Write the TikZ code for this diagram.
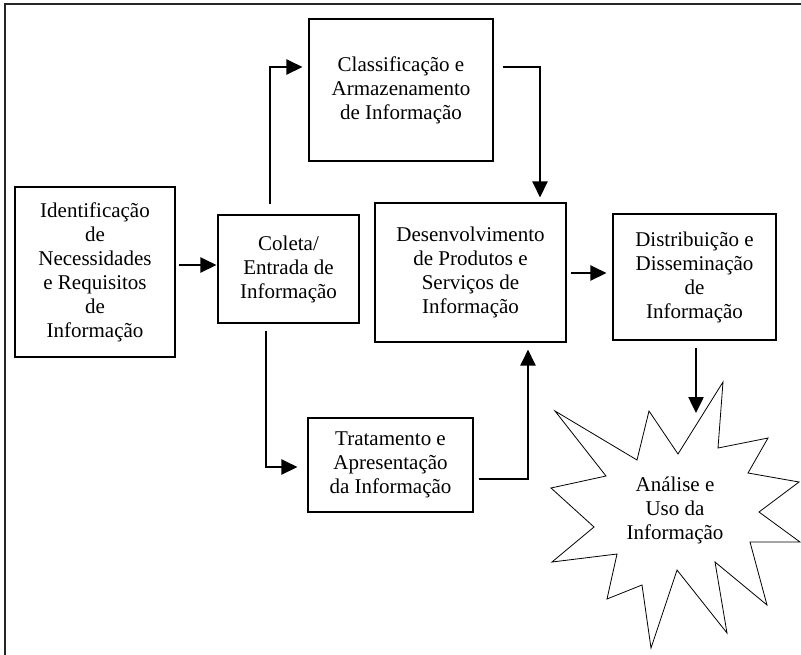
\documentclass[tikz,border=0pt]{standalone}
\usepackage{fontspec}
\setmainfont{Liberation Serif}
\usetikzlibrary{arrows.meta}
\begin{document}
\begin{tikzpicture}[x=1pt,y=-1pt,
  box/.style={draw, line width=1.1pt, align=center, inner sep=0pt,
    font=\fontsize{21}{24}\selectfont},
  label/.style={align=center, inner sep=0pt, font=\fontsize{21}{24}\selectfont},
  flow/.style={line width=2.5pt, -{Triangle[length=16pt,width=15pt]}},
  link/.style={line width=1.5pt},
  burst/.style={draw, line width=0.8pt}
]
\useasboundingbox (0,0) rectangle (801,654);

% outer frame (right and bottom sides lie outside the page)
\draw[line width=2.6pt, black!85] (5,680) -- (5,4) -- (830,4);

% process boxes
\node[box, minimum width=160pt, minimum height=170pt] (ident) at (95,272)
  {Identificação\\de\\Necessidades\\e Requisitos\\de\\Informação};
\node[box, minimum width=141pt, minimum height=108pt] (coleta) at (288.5,269)
  {Coleta/\\Entrada de\\Informação};
\node[box, minimum width=184pt, minimum height=142pt] (classif) at (401,90)
  {Classificação e\\Armazenamento\\de Informação};
\node[box, minimum width=191pt, minimum height=139pt] (desenv) at (470.5,272.5)
  {Desenvolvimento\\de Produtos e\\Serviços de\\Informação};
\node[box, minimum width=163pt, minimum height=126pt] (distrib) at (694.5,277)
  {Distribuição e\\Disseminação\\de\\Informação};
\node[box, minimum width=165pt, minimum height=94pt] (trat) at (390.5,465)
  {Tratamento e\\Apresentação\\da Informação};

% final stage: burst shape with its label
\draw[burst] (723,382) -- (718,448) -- (768,438) -- (748,473) -- (799,482)
  -- (759,512) -- (800,542) -- (750,542) -- (767,605) -- (715,562)
  -- (727,633) -- (677,570) -- (651,648) -- (642,585) -- (607,599)
  -- (617,554) -- (552,562) -- (594,527) -- (551,488) -- (606,476)
  -- (555,411) -- (637,460) -- (649,411) -- (678,454) -- cycle;
\node[label] (uso) at (675,510) {Análise e\\Uso da\\Informação};
\coordinate (usotop) at (696,413);

% connectors
\draw[flow] ([shift={(3,-7)}]ident.east) -- ([shift={(-1,-4)}]coleta.west);

\coordinate (up0) at ([shift={(-18.5,-10)}]coleta.north);
\coordinate (up1) at ([shift={(-6,-23)}]classif.west);
\draw[link] (up0) -- (up0 |- up1);
\draw[flow] ([xshift=-0.75pt]up0 |- up1) -- (up1);

\coordinate (dn0) at ([shift={(-22.5,7)}]coleta.south);
\coordinate (dn1) at ([shift={(-10,2)}]trat.west);
\draw[link] (dn0) -- (dn0 |- dn1);
\draw[flow] ([xshift=-0.75pt]dn0 |- dn1) -- (dn1);

\draw[flow] ([shift={(9,-23)}]classif.east) -| ([shift={(69.5,-5)}]desenv.north);
\draw[flow] ([shift={(5,14)}]trat.east) -| ([shift={(57.5,7)}]desenv.south);
\draw[flow] ([shift={(4,0.5)}]desenv.east) -- ([shift={(-6,-4)}]distrib.west);
\draw[flow] ([shift={(1.5,7)}]distrib.south) -- (usotop);
\end{tikzpicture}
\end{document}
